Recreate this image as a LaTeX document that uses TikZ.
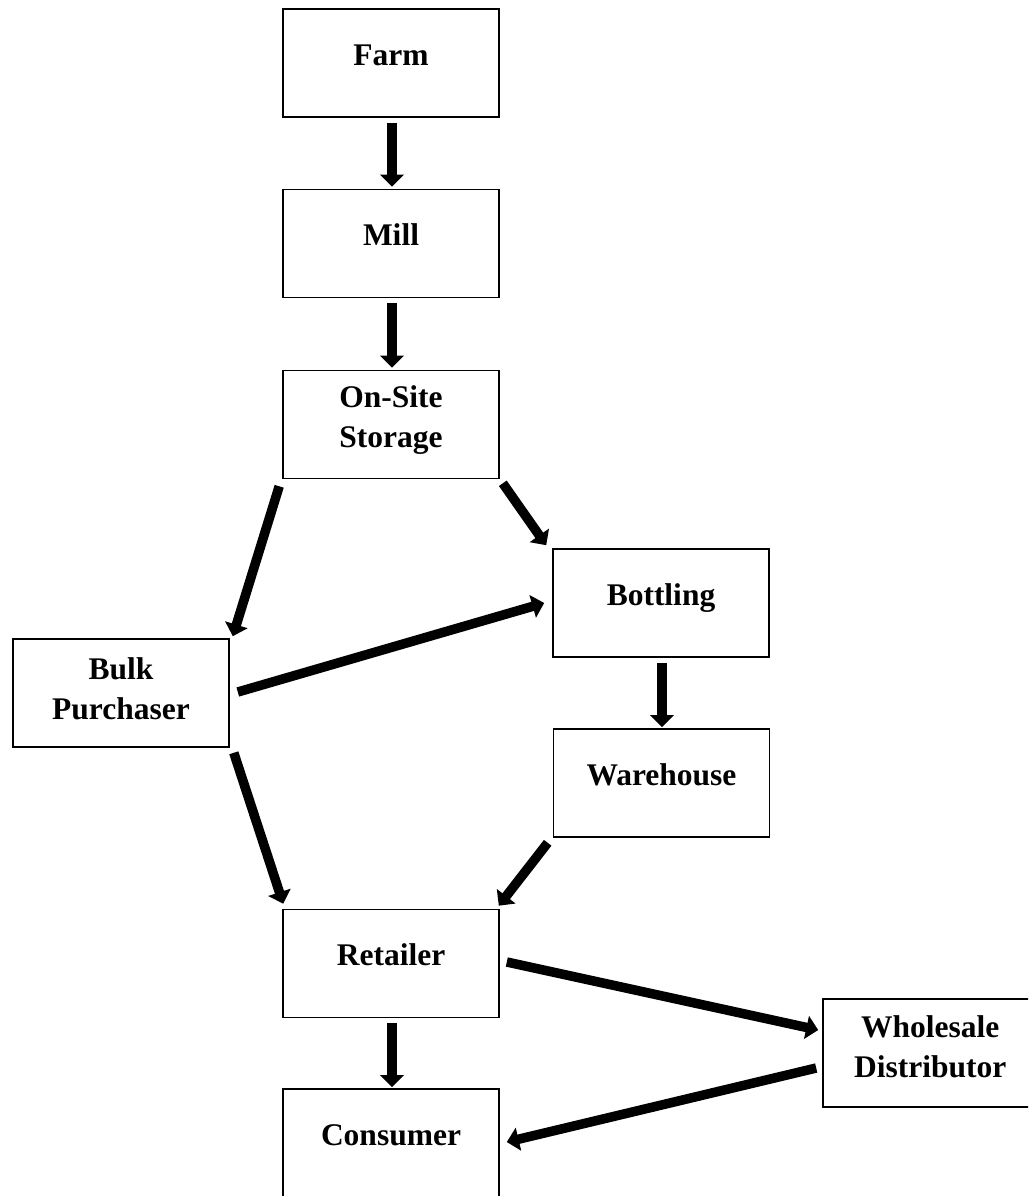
\documentclass[tikz,border=0pt]{standalone}
\usepackage{fontspec}
\setmainfont{Liberation Serif}
\usetikzlibrary{arrows.meta,calc}
\begin{document}
\begin{tikzpicture}[x=1pt,y=-1pt,
  box/.style={draw=black,line width=1.6pt,rectangle,minimum width=216pt,minimum height=108pt,inner sep=0pt},
  lbl/.style={font=\fontsize{31.5}{40}\selectfont\bfseries,align=center,inner sep=0pt,anchor=base},
  flow/.style={line width=9.5pt,-{Triangle[width=23pt,length=12pt]}}]
\useasboundingbox (0,0) rectangle (1028,1196);
\clip (0,0) rectangle (1028,1196);
\fill[white] (0,0) rectangle (1028,1196);
% boxes
\node[box] (farm) at (391,63) {};
\node[box] (mill) at (391,243.5) {};
\node[box] (onsite) at (391,424.5) {};
\node[box] (bottling) at (661,603) {};
\node[box] (bulk) at (121,693) {};
\node[box] (warehouse) at (661.5,783) {};
\node[box] (retailer) at (391,963.5) {};
\node[box] (wholesale) at (931,1053) {};
\node[box] (consumer) at (391,1143) {};
% labels
\node[lbl] (tfarm) at ($(farm.north)+(0,57)$) {Farm};
\node[lbl] (tmill) at ($(mill.north)+(0,57)$) {Mill};
\node[lbl] (tonsite) at ($(onsite.north)+(0,78)$) {On-Site\\Storage};
\node[lbl] (tbottling) at ($(bottling.north)+(0,57)$) {Bottling};
\node[lbl] (tbulk) at ($(bulk.north)+(0,81)$) {Bulk\\Purchaser};
\node[lbl] (twarehouse) at ($(warehouse.north)+(0,57)$) {Warehouse};
\node[lbl] (tretailer) at ($(retailer.north)+(0,57)$) {Retailer};
\node[lbl] (twholesale) at ($(wholesale.north west)+(108,79)$) {Wholesale\\Distributor};
\node[lbl] (tconsumer) at ($(consumer.north)+(0,57)$) {Consumer};
% connectors
\draw[flow] ($(farm.south)+(1,5)$) -- ($(mill.north)+(1,-2)$);
\draw[flow] ($(mill.south)+(1,5)$) -- ($(onsite.north)+(1,-2)$);
\draw[flow] ($(onsite.south west)+(-3,7)$) -- ($(bulk.north east)+(3,-2)$);
\draw[flow] ($(onsite.south east)+(3,4)$) -- ($(bottling.north west)+(-6,-3)$);
\draw[flow] ($(bulk.east)+(8,-1)$) -- ($(bottling.west)+(-8,0)$);
\draw[flow] ($(bottling.south)+(1,5)$) -- ($(warehouse.north)+(0.5,-1)$);
\draw[flow] ($(bulk.south east)+(4,5)$) -- ($(retailer.north west)+(1,-5)$);
\draw[flow] ($(warehouse.south west)+(-5,5)$) -- ($(retailer.north east)+(-1,-3)$);
\draw[flow] ($(retailer.east)+(7,-1.5)$) -- ($(wholesale.west)+(-4,-23)$);
\draw[flow] ($(retailer.south)+(1,5)$) -- ($(consumer.north)+(1,-1)$);
\draw[flow] ($(wholesale.west)+(-6,15)$) -- ($(consumer.east)+(7,-1)$);
\end{tikzpicture}
\end{document}
